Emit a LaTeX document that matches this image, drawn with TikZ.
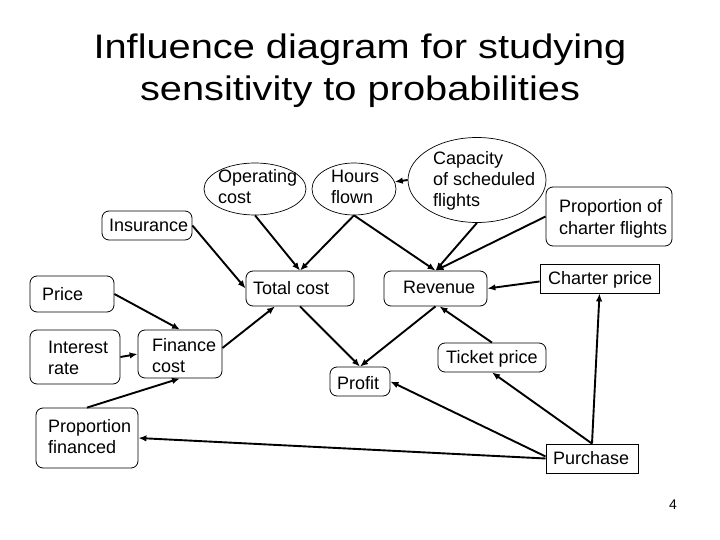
\documentclass[tikz,border=0pt]{standalone}
\usepackage{fontspec}
\setmainfont{Liberation Sans}
\usetikzlibrary{shapes.geometric,arrows.meta}
\begin{document}
\begin{tikzpicture}[x=1pt,y=-1pt,
  box/.style={draw=black,line width=0.8pt,rounded corners=7pt,inner sep=0pt},
  sbox/.style={draw=black,line width=0.8pt,inner sep=0pt},
  oval/.style={draw=black,line width=0.7pt,ellipse,inner sep=0pt},
  lbl/.style={anchor=base west,inner sep=0pt,align=left,font=\fontsize{18}{21}\selectfont},
  arr/.style={line width=1.9pt,-{Latex[length=8pt,width=6.5pt]}}]
\useasboundingbox[fill=white] (0,0) rectangle (720,540);
% title
\node[inner sep=0pt,align=center,font=\fontsize{34}{42}\selectfont,anchor=base] (title) at (360,101)
  {\scalebox{1.17}[1]{Influence diagram for studying}\\\scalebox{1.17}[1]{sensitivity to probabilities}};
% shapes
\node[oval,minimum width=102pt,minimum height=52pt] (opc) at (255,189) {};
\node[oval,minimum width=84pt,minimum height=52pt] (hrs) at (354,189) {};
\node[oval,minimum width=138pt,minimum height=85pt] (cap) at (477,180) {};
\node[box,minimum width=126pt,minimum height=59pt] (prch) at (609,216.5) {};
\node[box,minimum width=90pt,minimum height=29pt] (ins) at (147,225.5) {};
\node[box,minimum width=84pt,minimum height=36pt] (price) at (72,294) {};
\node[box,minimum width=108pt,minimum height=35pt] (tc) at (300,288.5) {};
\node[box,minimum width=103pt,minimum height=35pt] (rev) at (435.5,288.5) {};
\node[sbox,minimum width=119pt,minimum height=29pt] (chp) at (599.5,278.5) {};
\node[box,minimum width=90pt,minimum height=54pt] (ir) at (75,357) {};
\node[box,minimum width=84pt,minimum height=48pt] (fc) at (180,354) {};
\node[box,minimum width=102pt,minimum height=60pt] (pf) at (87,438) {};
\node[box,minimum width=60pt,minimum height=29pt] (prof) at (360,381.5) {};
\node[box,minimum width=108pt,minimum height=29pt] (tp) at (492,357.5) {};
\node[sbox,minimum width=92pt,minimum height=29pt] (pur) at (592,458.5) {};
% labels (anchor = baseline of last line)
\node[lbl] (topc) at (218,204) {Operating\\cost};
\node[lbl] (thrs) at (331,204) {Hours\\flown};
\node[lbl] (tcap) at (433,207) {Capacity\\of scheduled\\flights};
\node[lbl] (tprch) at (559,234) {Proportion of\\charter flights};
\node[lbl] (tins) at (109,231) {Insurance};
\node[lbl] (tprice) at (42,300) {Price};
\node[lbl] (ttc) at (253,294) {Total cost};
\node[lbl] (trev) at (403,293) {Revenue};
\node[lbl] (tchp) at (548,284) {Charter price};
\node[lbl] (tir) at (48,374) {Interest\\rate};
\node[lbl] (tfc) at (152,372) {Finance\\cost};
\node[lbl] (tpf) at (48,453) {Proportion\\financed};
\node[lbl] (ttp) at (446,363) {Ticket price};
\node[lbl] (tprof) at (337,389) {Profit};
\node[lbl] (tpur) at (553,464) {Purchase};
\node[anchor=base,inner sep=0pt,font=\fontsize{14}{16}\selectfont] (pg) at (673,509) {4};
% connectors
\draw[arr] (opc.south) -- (tc.north);
\draw[arr] (hrs.south) -- (tc.north);
\draw[arr] (ins.east) -- (tc.west);
\draw[arr] (price.east) -- (fc.north);
\draw[arr] (ir.east) -- (fc.west);
\draw[arr] (pf.north) -- (fc.south);
\draw[arr] ([yshift=6pt]fc.east) -- ([xshift=-25pt]tc.south);
\draw[arr] (tc.south) -- (prof.north);
\draw[arr] (rev.south) -- (prof.north);
\draw[arr] (hrs.south) -- (rev.north);
\draw[arr] (cap.west) -- (hrs.10);
\draw[arr] (cap.south) -- (rev.north);
\draw[arr] (prch.west) -- (rev.north);
\draw[arr] ([yshift=-3pt]chp.west) -- (rev.east);
\draw[arr] (tp.north) -- ([xshift=4pt]rev.south);
\draw[arr] (pur.north) -- (tp.south);
\draw[arr] (pur.north) -- (chp.south);
\draw[arr] ([yshift=2pt]pur.west) -- (prof.east);
\draw[arr] (pur.west) -- (pf.east);
\end{tikzpicture}
\end{document}
